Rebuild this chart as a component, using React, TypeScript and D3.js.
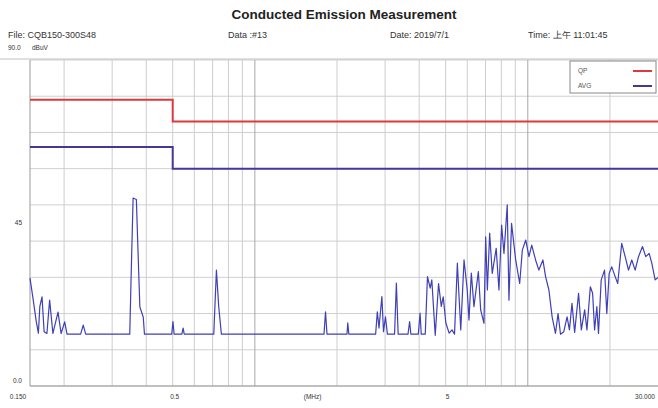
import React from 'react';
import * as d3 from 'd3';

// Header texts
const title = 'Conducted Emission Measurement';
const headerItems = ['File: CQB150-300S48', 'Data :#13', 'Date: 2019/7/1', 'Time: 上午 11:01:45'];

// Axis labels
const xLabels = [
  { f: 0.15, text: '0.150' },
  { f: 0.5, text: '0.5' },
  { f: 1.6, text: '(MHz)' },
  { f: 5, text: '5' },
  { f: 30, text: '30.000' },
];
const yLabels = [
  { v: 90, text: '90.0' },
  { v: 45, text: '45' },
  { v: 0, text: '0.0' },
];

// Limit lines (dBuV)
const limitFreq = [0.15, 0.5, 0.5, 30];
const qpLimit = [79, 79, 73, 73];
const avgLimit = [66, 66, 60, 60];

// Measured trace: frequency (MHz) and level (dBuV)
const traceFreq = [
  0.15, 0.154, 0.158, 0.161, 0.163, 0.166, 0.169, 0.173, 0.177, 0.182,
  0.19, 0.195, 0.201, 0.205, 0.23, 0.235, 0.24, 0.348, 0.352, 0.358,
  0.368, 0.373, 0.379, 0.39, 0.394, 0.496, 0.501, 0.506, 0.54, 0.546,
  0.551, 0.707, 0.723, 0.737, 0.754, 1.792, 1.815, 1.838, 2.175, 2.19,
  2.21, 2.77, 2.81, 2.85, 2.92, 2.96, 3.01, 3.06, 3.25, 3.3,
  3.35, 3.64, 3.69, 3.73, 3.97, 4.03, 4.07, 4.21, 4.29, 4.39,
  4.45, 4.58, 4.71, 4.82, 4.9, 5.01, 5.15, 5.28, 5.39, 5.52,
  5.68, 5.84, 6.0, 6.09, 6.21, 6.35, 6.59, 6.72, 6.91, 7.01,
  7.11, 7.25, 7.41, 7.66, 7.84, 8.02, 8.18, 8.41, 8.53, 8.72,
  9.03, 9.34, 9.55, 9.83, 10.1, 10.34, 10.68, 10.98, 11.36, 11.62,
  11.95, 12.28, 12.63, 12.91, 13.18, 13.55, 13.93, 14.21, 14.52, 14.85,
  15.35, 15.71, 16.16, 16.47, 16.95, 17.28, 17.57, 17.91, 18.16, 18.58,
  19.11, 19.48, 19.87, 20.31, 20.9, 21.36, 22.09, 22.74, 23.39, 24.05,
  24.74, 25.45, 26.32, 27.06, 27.84, 28.47, 29.29, 30.0,
];
const traceLevel = [
  29.8, 24, 18, 14.6, 22, 24.6, 15, 14.5, 23.7, 14.5,
  20.4, 14.5, 17.7, 14.3, 14.3, 16.8, 14.3, 14.3, 30, 51.9,
  51.5, 37.5, 21.8, 19, 14.3, 14.3, 17.8, 14.3, 14.3, 16,
  14.3, 14.3, 32, 22, 14.3, 14.3, 20.5, 14.3, 14.3, 17.4,
  14.3, 14.3, 20.5, 16, 24.7, 15, 19.1, 14.3, 14.3, 28.4,
  14.3, 14.3, 17.8, 14.3, 14.3, 20.1, 14.3, 14.3, 30.2, 27,
  29.3, 14, 28.3, 22, 24.6, 17.4, 14.6, 15.5, 14.3, 33.9,
  15.5, 34.8, 26.5, 18.2, 31.2, 21.9, 31.6, 21, 17.3, 41.2,
  26.5, 42.2, 31.1, 38, 26.5, 44.4, 36.6, 50, 23.7, 44.9,
  34.8, 28.3, 37.5, 40.3, 35.7, 38.9, 34.8, 32, 34.8, 30.2,
  26.5, 19.1, 14.5, 20, 14.3, 15, 19.1, 15.5, 22.8, 14.8,
  25.6, 15.5, 21, 15.5, 27.4, 25.6, 15.5, 21.9, 14.5, 29.3,
  32, 20, 31.1, 32.9, 30.2, 28.3, 39.4, 35.7, 32, 34.8,
  32, 35.7, 38.5, 35.7, 36.6, 33.9, 29.3, 30,
];

const width = 658;
const height = 408;
const plot = { left: 30, right: 658, top: 60, bottom: 386 };

const App: React.FC = () => {
  const x = d3.scaleLog().domain([0.15, 30]).range([plot.left, plot.right]);
  const y = d3.scaleLinear().domain([0, 90]).range([plot.bottom, plot.top]);

  const line = d3
    .line<number>()
    .x((d, i) => x(traceFreq[i]))
    .y((d) => y(d));

  const limitLine = d3
    .line<number>()
    .x((d, i) => x(limitFreq[i]))
    .y((d) => y(d));

  const vTicks = x.ticks().filter((t) => t > 0.15 && t < 30);
  const hTicks = y.ticks(9);
  const font = '"Liberation Sans", Arial, sans-serif';
  const headerX = [8, 228, 390, 528];

  return (
    <svg
      width={width}
      height={height}
      style={{ position: 'absolute', left: 0, top: 0, background: '#fff' }}
      fontFamily={font}
    >
      <rect width={width} height={height} fill="#fff" />
      <text x={344} y={19} textAnchor="middle" fontSize={13.5} fontWeight="bold" fill="#222">
        {title}
      </text>
      {headerItems.map((t, i) => (
        <text key={t} x={headerX[i]} y={38} fontSize={9} fill="#333">
          {t}
        </text>
      ))}
      <text x={32} y={50} fontSize={6.5} fill="#333">dBuV</text>

      {/* grid */}
      {hTicks.map((t) => (
        <line key={'h' + t} x1={plot.left} x2={plot.right} y1={y(t)} y2={y(t)} stroke="#cfcfcf" strokeWidth={1} />
      ))}
      {vTicks.map((t) => (
        <line
          key={'v' + t}
          x1={x(t)}
          x2={x(t)}
          y1={plot.top}
          y2={plot.bottom}
          stroke={t === 1 || t === 10 ? '#a8a8a8' : '#cdcdcd'}
          strokeWidth={1}
        />
      ))}
      <line x1={0} x2={plot.right} y1={plot.top - 1} y2={plot.top - 1} stroke="#c0c0c0" />
      <line x1={plot.left} x2={plot.left} y1={plot.top} y2={plot.bottom} stroke="#999" />
      <line x1={plot.left} x2={plot.right} y1={plot.bottom} y2={plot.bottom} stroke="#999" />

      {/* axis labels */}
      {yLabels.map((l) => (
        <text
          key={l.text}
          x={l.v === 90 ? 8 : 22}
          y={l.v === 90 ? 50 : l.v === 0 ? y(l.v) - 3 : y(l.v) + 2}
          textAnchor={l.v === 90 ? 'start' : 'end'}
          fontSize={6.5}
          fill="#333"
        >
          {l.text}
        </text>
      ))}
      {xLabels.map((l) => (
        <text
          key={l.text}
          x={l.f === 0.15 ? 18 : l.f === 30 ? 645 : x(l.f) + 2}
          y={399}
          textAnchor="middle"
          fontSize={6.5}
          fill="#333"
        >
          {l.text}
        </text>
      ))}

      {/* limits */}
      <path d={limitLine(qpLimit) || ''} fill="none" stroke="#e0393b" strokeWidth={2} />
      <path d={limitLine(avgLimit) || ''} fill="none" stroke="#47369a" strokeWidth={2} />

      {/* trace */}
      <path d={line(traceLevel) || ''} fill="none" stroke="#3f3fb8" strokeWidth={1.2} strokeLinejoin="round" />

      {/* legend */}
      <rect x={570} y={plot.top + 1} width={86} height={32} fill="#fff" stroke="#888" strokeWidth={1} />
      <text x={578} y={73} fontSize={6.5} fill="#555">QP</text>
      <line x1={633} x2={652} y1={71} y2={71} stroke="#e0393b" strokeWidth={2} />
      <text x={578} y={88} fontSize={6.5} fill="#555">AVG</text>
      <line x1={633} x2={652} y1={86} y2={86} stroke="#47369a" strokeWidth={2} />
    </svg>
  );
};

export default App;
